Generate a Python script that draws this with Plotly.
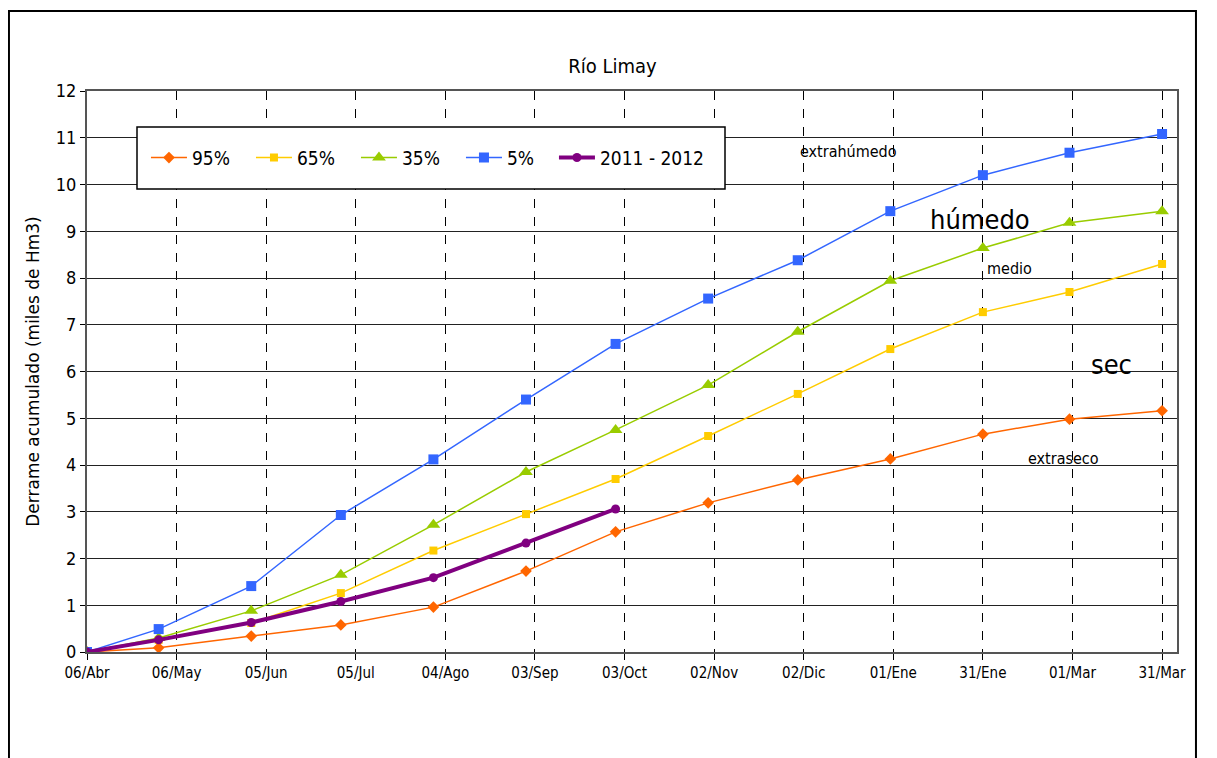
import plotly.graph_objects as go

# ---- data ----
dates = ["2011-04-06", "2011-04-30", "2011-05-31", "2011-06-30", "2011-07-31",
         "2011-08-31", "2011-09-30", "2011-10-31", "2011-11-30", "2011-12-31",
         "2012-01-31", "2012-02-29", "2012-03-31"]
p95 = [0.0, 0.09, 0.34, 0.58, 0.96, 1.73, 2.57, 3.19, 3.68, 4.13, 4.66, 4.98, 5.16]
p65 = [0.0, 0.26, 0.62, 1.26, 2.17, 2.95, 3.70, 4.62, 5.52, 6.48, 7.27, 7.70, 8.30]
p35 = [0.0, 0.30, 0.88, 1.65, 2.72, 3.85, 4.75, 5.71, 6.85, 7.94, 8.64, 9.18, 9.43]
p5 = [0.0, 0.49, 1.41, 2.93, 4.12, 5.40, 6.59, 7.56, 8.38, 9.43, 10.20, 10.68, 11.08]
y2011_dates = dates[:7]
y2011 = [0.0, 0.26, 0.63, 1.08, 1.59, 2.33, 3.06]

tick_dates = ["2011-04-06", "2011-05-06", "2011-06-05", "2011-07-05", "2011-08-04",
              "2011-09-03", "2011-10-03", "2011-11-02", "2011-12-02", "2012-01-01",
              "2012-01-31", "2012-03-01", "2012-03-31"]
tick_labels = ["06/Abr", "06/May", "05/Jun", "05/Jul", "04/Ago", "03/Sep", "03/Oct",
               "02/Nov", "02/Dic", "01/Ene", "31/Ene", "01/Mar", "31/Mar"]

FONT = "DejaVu Sans Condensed, DejaVu Sans, sans-serif"

fig = go.Figure()
series = [
    ("95%", dates, p95, "#FF6600", "diamond", 9, 1.5, "legend"),
    ("65%", dates, p65, "#FFCC00", "square", 8, 1.5, "legend"),
    ("35%", dates, p35, "#99CC00", "triangle-up", 12, 1.5, "legend"),
    ("5%", dates, p5, "#3366FF", "square", 10, 1.5, "legend"),
    ("2011 - 2012", y2011_dates, y2011, "#800080", "circle", 9, 4, "legend2"),
]
for name, xs, ys, col, sym, msz, lw, leg in series:
    fig.add_trace(go.Scatter(x=xs, y=ys, name=name, mode="lines+markers",
                             legend=leg,
                             line=dict(color=col, width=lw),
                             marker=dict(symbol=sym, size=msz, color=col)))

annots = [
    ("extrahúmedo", "2011-12-17", 10.7, 16),
    ("húmedo", "2012-01-30", 9.26, 27),
    ("medio", "2012-02-09", 8.21, 16),
    ("sec", "2012-03-14", 6.16, 27),
    ("extraseco", "2012-02-27", 4.13, 16),
]
for txt, xd, yv, sz in annots:
    fig.add_annotation(x=xd, y=yv, text=txt, showarrow=False,
                       font=dict(family=FONT, size=sz, color="black"))

leg_common = dict(orientation="h", yanchor="top", xanchor="left", y=0.915,
                  borderwidth=0, bgcolor="rgba(0,0,0,0)",
                  font=dict(size=19, family=FONT), itemwidth=36)

fig.update_layout(
    width=1209, height=750,
    margin=dict(l=79, r=40, t=83, b=106),
    paper_bgcolor="white", plot_bgcolor="white",
    font=dict(family=FONT, color="black"),
    title=dict(text="Río Limay", x=0.5, xanchor="center", y=1 - 58 / 750, yanchor="middle",
               font=dict(size=20, family=FONT)),
    showlegend=True,
    legend=dict(x=0.0541, entrywidth=54, **leg_common),
    legend2=dict(x=0.4284, **leg_common),
    shapes=[
        dict(type="rect", xref="paper", yref="paper",
             x0=-0.0716, x1=1.0174, y0=-0.3, y1=1.1426,
             line=dict(color="black", width=2), layer="above"),
        dict(type="rect", xref="paper", yref="paper",
             x0=(129 - 79) / 1090, x1=(717 - 79) / 1090,
             y0=(644 - 181) / 561, y1=(644 - 119) / 561,
             line=dict(color="black", width=1.5), fillcolor="white", layer="above"),
    ],
)
fig.update_xaxes(type="date", range=["2011-04-06", "2012-04-05"],
                 tickmode="array", tickvals=tick_dates, ticktext=tick_labels,
                 tickfont=dict(size=15), ticks="outside", ticklen=6, tickcolor="black",
                 showgrid=True, gridcolor="black", griddash="dash", gridwidth=1,
                 showline=True, linecolor="#555555", linewidth=2, mirror=True,
                 zeroline=False)
fig.update_yaxes(range=[0, 12], dtick=1, tickfont=dict(size=18),
                 ticks="outside", ticklen=5, tickcolor="black",
                 showgrid=True, gridcolor="#222222", gridwidth=1,
                 showline=True, linecolor="#555555", linewidth=2, mirror=True,
                 zeroline=False,
                 title=dict(text="Derrame acumulado (miles de Hm3)",
                            font=dict(size=17, family="DejaVu Sans, sans-serif"), standoff=12))

fig.write_html("out.html")
